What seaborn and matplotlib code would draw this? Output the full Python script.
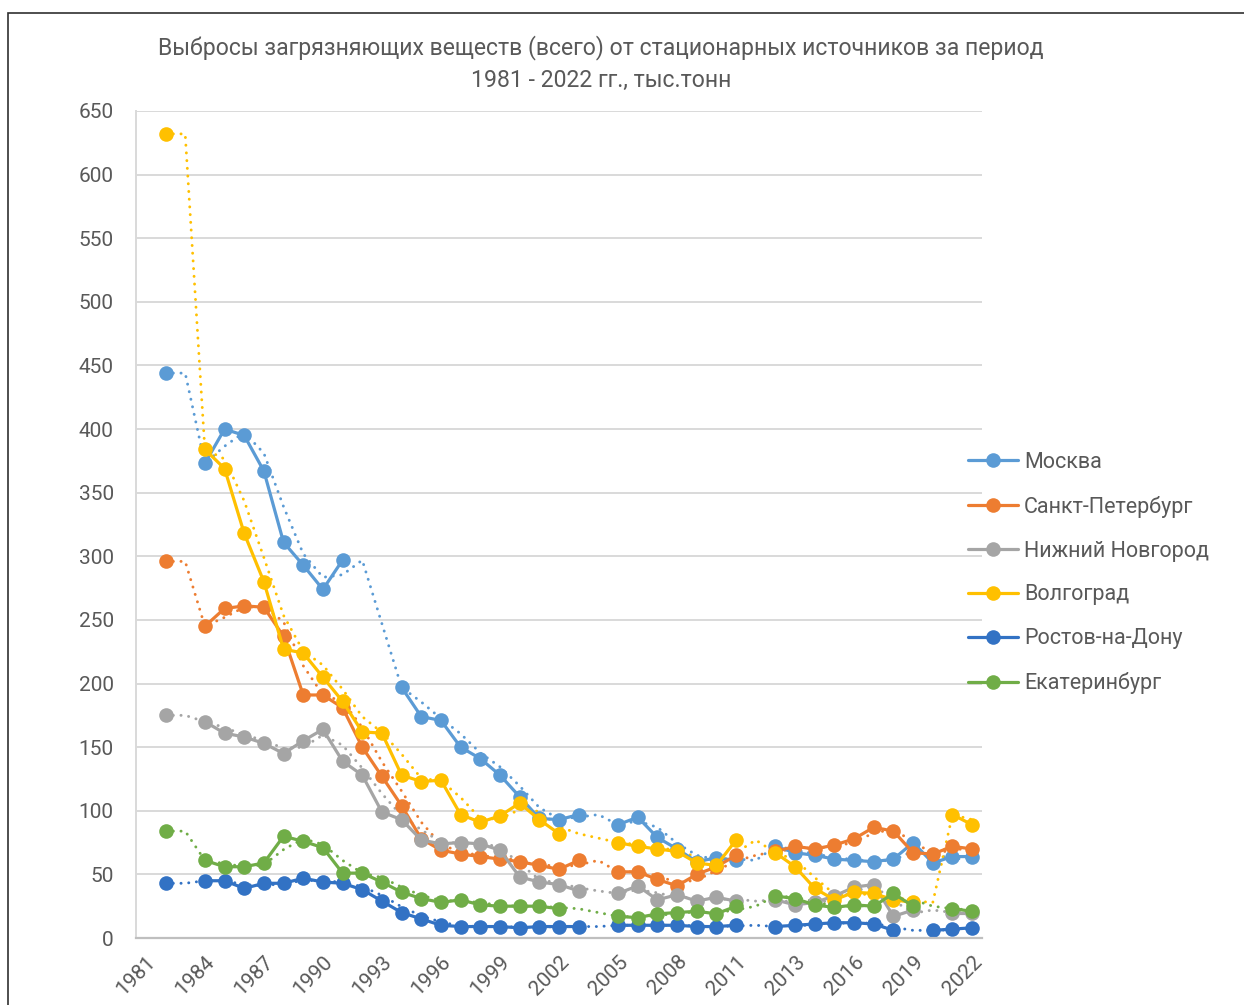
import numpy as np
import pandas as pd
import matplotlib
matplotlib.use("Agg")
import matplotlib.pyplot as plt
from matplotlib.lines import Line2D
from matplotlib.patches import Rectangle
import seaborn as sns

N = np.nan

# 43 category slots on the horizontal axis; a label is shown on every third slot
tick_labels = ["1981", "1984", "1987", "1990", "1993", "1996", "1999", "2002",
               "2005", "2008", "2011", "2013", "2016", "2019", "2022"]
tick_slots = list(range(0, 43, 3))
slots = list(range(43))

cities = ["Москва", "Санкт-Петербург", "Нижний Новгород", "Волгоград",
          "Ростов-на-Дону", "Екатеринбург"]
colors = ["#5B9BD5", "#ED7D31", "#A5A5A5", "#FFC000", "#3272C4", "#70AD47"]

# emissions, thousand tonnes (NaN = no data for that slot)
moscow = [N, 444, N, 373, 400, 395, 367, 311, 293, 274, 297, N, N, 197, 174, 171,
          150, 141, 128, 111, 94, 93, 97, N, 89, 95, 79, 70, 60, 63, 61, N,
          72, 67, 65, 62, 61, 60, 62, 75, 59, 64, 64]
spb = [N, 296, N, 245, 259, 261, 260, 237, 191, 191, 181, 150, 127, 104, 78, 69,
       66, 64, 62, 60, 57, 54, 61, N, 52, 52, 46, 41, 50, 56, 65, N,
       68, 72, 70, 73, 78, 87, 84, 67, 66, 72, 70]
nnov = [N, 175, N, 170, 161, 158, 153, 145, 155, 164, 139, 128, 99, 93, 77, 74,
        75, 74, 69, 48, 44, 42, 37, N, 35, 41, 30, 34, 29, 32, 29, N,
        30, 26, 28, 33, 40, 42, 17, 22, N, 20, 20]
volgograd = [N, 632, N, 384, 369, 318, 280, 227, 224, 205, 186, 162, 161, 128, 123, 124,
             97, 91, 96, 106, 93, 82, N, N, 75, 72, 70, 68, 59, 57, 77, N,
             67, 56, 39, 30, 36, 35, 30, 28, N, 97, 89]
rostov = [N, 43, N, 45, 45, 39, 43, 43, 47, 44, 43, 38, 29, 20, 15, 10,
          9, 9, 9, 8, 9, 9, 9, N, 10, 10, 10, 10, 9, 9, 10, N,
          9, 10, 11, 12, 12, 11, 6, N, 6, 7, 8]
ekb = [N, 84, N, 61, 56, 56, 59, 80, 76, 71, 51, 51, 44, 36, 31, 28,
       30, 26, 25, 25, 25, 23, N, N, 17, 16, 19, 20, 21, 19, 25, N,
       33, 31, 26, 24, 26, 25, 35, 25, N, 23, 21]

series = dict(zip(cities, [moscow, spb, nnov, volgograd, rostov, ekb]))

# long-form tables: observed points (split into unbroken segments) and
# a two-period moving average used as a dotted trend line
pt_frames, ma_frames = [], []
for name, vals in series.items():
    s = pd.Series(vals, index=slots, dtype=float)
    ok = s.notna()
    seg = s.isna().cumsum()
    pt_frames.append(pd.DataFrame({"slot": s.index[ok], "value": s[ok].values,
                                   "city": name, "segment": seg[ok].values}))
    ma = s.rolling(2, min_periods=1).mean().dropna()
    ma_frames.append(pd.DataFrame({"slot": ma.index, "value": ma.values, "city": name}))
points = pd.concat(pt_frames, ignore_index=True)
trend = pd.concat(ma_frames, ignore_index=True)

sns.set_theme(style="white")
plt.rcParams["font.family"] = ["Roboto", "DejaVu Sans"]
TEXT = "#595959"

W, H = 1244, 1005
fig = plt.figure(figsize=(W / 100, H / 100), dpi=100)
ax = fig.add_axes([136 / W, 1 - 938 / H, (982 - 136) / W, (938 - 111) / H])

palette = dict(zip(cities, colors))
sns.lineplot(data=trend, x="slot", y="value", hue="city", hue_order=cities,
             palette=palette, estimator=None, legend=False, ax=ax,
             linewidth=2.1, linestyle=(0, (0.05, 2.6)), dash_capstyle="round")
sns.lineplot(data=points, x="slot", y="value", hue="city", hue_order=cities,
             units="segment", estimator=None, palette=palette, legend=False, ax=ax,
             linewidth=2.3, marker="o", markersize=10.5, markeredgewidth=0)

ax.set_xlim(-0.5, 42.5)
ax.set_ylim(0, 650)
ax.set_yticks(range(0, 651, 50))
ax.set_xticks(tick_slots)
ax.set_xticklabels(tick_labels, rotation=45, ha="right", va="top",
                   rotation_mode="anchor")
ax.set_xlabel("")
ax.set_ylabel("")
ax.yaxis.grid(True, color="#D9D9D9", linewidth=1.4)
ax.xaxis.grid(False)
ax.set_axisbelow(True)
for side in ("top", "right"):
    ax.spines[side].set_visible(False)
ax.spines["bottom"].set_color("#BFBFBF")
ax.spines["bottom"].set_linewidth(1.6)
ax.spines["left"].set_color("#D9D9D9")
ax.spines["left"].set_linewidth(1.4)
ax.tick_params(axis="y", length=0, pad=16, labelsize=15, labelcolor=TEXT)
ax.tick_params(axis="x", length=0, pad=10, labelsize=15, labelcolor=TEXT)

fig.text(601 / W, 1 - 48 / H,
         "Выбросы загрязняющих веществ (всего) от стационарных источников за период",
         ha="center", va="center", fontsize=16.6, color=TEXT)
fig.text(601 / W, 1 - 80 / H, "1981 - 2022 гг., тыс.тонн",
         ha="center", va="center", fontsize=16.6, color=TEXT)

handles = [Line2D([0], [0], color=c, lw=2.3, marker="o", markersize=10.5,
                  markeredgewidth=0) for c in colors]
fig.legend(handles, cities, loc="center left",
           bbox_to_anchor=(968 / W, 1 - 573 / H), frameon=False, fontsize=15.5,
           handlelength=2.3, handletextpad=0.3, labelspacing=1.06,
           borderpad=0, borderaxespad=0, labelcolor=TEXT)

# outer chart frame
fig.patches.append(Rectangle((8 / W, -0.1), 1.2, 1.1 - 13 / H,
                             transform=fig.transFigure, fill=False,
                             edgecolor="#303030", linewidth=1.2))

fig.savefig("out.png", dpi=100)
